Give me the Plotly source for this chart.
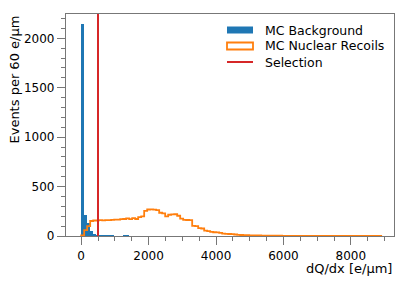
import numpy as np
import plotly.graph_objects as go

# ---- data ----
BIN_WIDTH = 89.0
N_BINS = 100
bin_edges = [i * BIN_WIDTH for i in range(N_BINS + 1)]

bkg_counts = [2140, 212, 130, 48, 18, 6, 3, 2, 4, 1, 1, 0, 0, 0, 2, 1] + [0] * (N_BINS - 16)

nr_counts = [
    5, 60, 100, 152, 157, 158, 160, 158, 160, 161,
    164, 166, 165, 170, 172, 178, 170, 180, 172, 190,
    198, 255, 268, 270, 266, 262, 235, 228, 198, 215,
    218, 220, 205, 175, 163, 162, 160, 102, 100, 80,
    76, 55, 50, 42, 38, 36, 32, 25, 22, 20,
    18, 15, 12, 10, 9, 8, 7, 6, 5, 5,
    4, 4, 4, 3, 3, 3, 3, 2, 2, 2,
    2, 2, 2, 1, 1, 1, 1, 1, 1, 1,
    1, 1, 1, 1, 1, 1, 1, 1, 1, 1,
    1, 1, 1, 1, 1, 1, 1, 1, 1, 1,
]

selection_cut = 500
x_range = [-450, 9280]
y_range = [0, 2246]

x_tick_vals = [0, 2000, 4000, 6000, 8000]
y_tick_vals = [0, 500, 1000, 1500, 2000]

legend_labels = ["MC Background", "MC Nuclear Recoils", "Selection"]

# ---- figure ----
FONT = "DejaVu Sans"
BLUE = "#1f77b4"
ORANGE = "#ff7f0e"
RED = "#d62728"
FRAME = "#777777"

W, H = 415, 281
ML, MR, MT, MB = 66, 21, 14, 45
PW, PH = W - ML - MR, H - MT - MB


def px2paper(x, y):
    return (x - ML) / PW, (H - MB - y) / PH


centers = [(bin_edges[i] + bin_edges[i + 1]) / 2 for i in range(N_BINS)]

fig = go.Figure()

fig.add_trace(go.Bar(
    x=centers, y=bkg_counts, width=BIN_WIDTH,
    marker=dict(color=BLUE, line=dict(width=0)),
    name=legend_labels[0],
))

step_x = [bin_edges[0]] + bin_edges[:-1] + [bin_edges[-1], bin_edges[-1]]
step_y = [0] + nr_counts + [nr_counts[-1], 0]
fig.add_trace(go.Scatter(
    x=step_x, y=step_y, mode="lines", line=dict(color=ORANGE, width=1.8, shape="hv"),
    name=legend_labels[1], hoverinfo="skip",
))

fig.add_trace(go.Scatter(
    x=[selection_cut, selection_cut], y=y_range, mode="lines",
    line=dict(color=RED, width=2), name=legend_labels[2],
))

fig.update_layout(
    width=W, height=H,
    margin=dict(l=ML, r=MR, t=MT, b=MB),
    paper_bgcolor="white", plot_bgcolor="white",
    bargap=0, barmode="overlay",
    font=dict(family=FONT, size=12, color="black"),
    showlegend=False,
)

fig.update_xaxes(
    range=x_range, tickvals=x_tick_vals, ticks="outside", ticklen=8, tickwidth=1,
    tickcolor=FRAME, showline=True, linecolor=FRAME, linewidth=1.2, mirror=True,
    showgrid=False, zeroline=False,
    minor=dict(dtick=500, tick0=0, ticks="outside", ticklen=4, tickcolor=FRAME, showgrid=False),
    tickfont=dict(family=FONT, size=12),
)
fig.update_yaxes(
    range=y_range, tickvals=y_tick_vals, ticks="outside", ticklen=8, tickwidth=1,
    tickcolor=FRAME, showline=True, linecolor=FRAME, linewidth=1.2, mirror=True,
    showgrid=False, zeroline=False,
    minor=dict(dtick=100, tick0=0, ticks="outside", ticklen=4, tickcolor=FRAME, showgrid=False),
    tickfont=dict(family=FONT, size=12),
)

# ---- manual legend ----
sym_x0, sym_x1, text_x = 227, 253, 263
rows_y = [30, 46, 62]
x0, _ = px2paper(sym_x0, 0)
x1, _ = px2paper(sym_x1, 0)
tx, _ = px2paper(text_x, 0)
for i, (label, yc) in enumerate(zip(legend_labels, rows_y)):
    _, yp = px2paper(0, yc)
    _, ytop = px2paper(0, yc - 3.5)
    _, ybot = px2paper(0, yc + 3.5)
    if i == 0:
        fig.add_shape(type="rect", xref="paper", yref="paper", x0=x0, x1=x1, y0=ybot, y1=ytop,
                      fillcolor=BLUE, line=dict(width=0))
    elif i == 1:
        fig.add_shape(type="rect", xref="paper", yref="paper", x0=x0, x1=x1, y0=ybot, y1=ytop,
                      fillcolor="rgba(0,0,0,0)", line=dict(color=ORANGE, width=1.8))
    else:
        fig.add_shape(type="line", xref="paper", yref="paper", x0=x0, x1=x1, y0=yp, y1=yp,
                      line=dict(color=RED, width=2))
    fig.add_annotation(text=label, xref="paper", yref="paper", x=tx, y=yp,
                       xanchor="left", yanchor="middle", showarrow=False,
                       font=dict(family=FONT, size=12.5))

fig.add_annotation(
    text="dQ/dx [e/µm]", xref="paper", yref="paper", x=1.0, y=-0.145,
    xanchor="right", yanchor="middle", showarrow=False,
    font=dict(family=FONT, size=13),
)
fig.add_annotation(
    text="Events per 60 e/µm", xref="paper", yref="paper", x=-0.16, y=1.0,
    xanchor="center", yanchor="top", textangle=-90, showarrow=False,
    font=dict(family=FONT, size=13),
)

fig.write_html("out.html", config={"displayModeBar": False},
               post_script="document.body.style.margin='0px';")
